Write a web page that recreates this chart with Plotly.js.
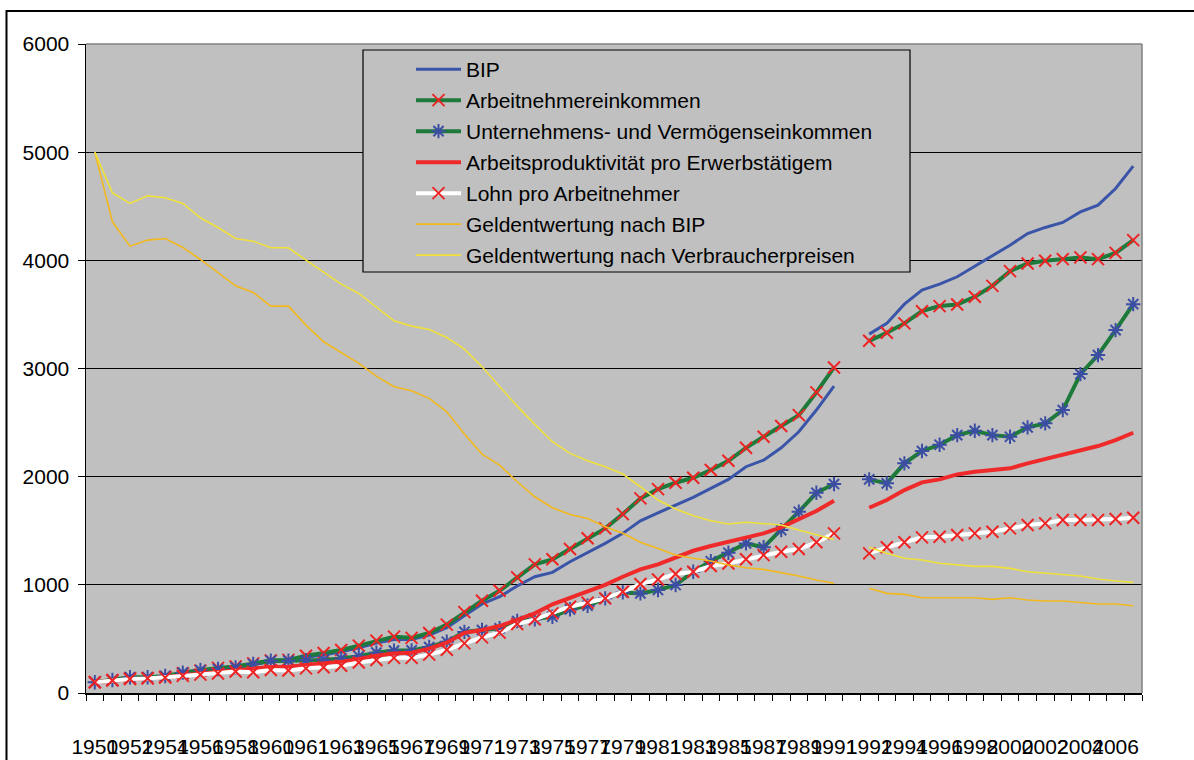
<!DOCTYPE html>
<html>
<head>
<meta charset="utf-8">
<script src="https://cdn.plot.ly/plotly-3.0.1.min.js"></script>
<style>html,body{margin:0;padding:0;background:#fff;}#chart{width:1194px;height:760px;}</style>
</head>
<body>
<div id="chart"></div>
<script>
// Category labels (60 slots; slot 43 is the gap between West Germany and unified Germany)
const categories = [
  "1950","1951","1952","1953","1954","1955","1956","1957","1958","1959","1960","1960",
  "1961","1962","1963","1964","1965","1966","1967","1968","1969","1970","1971","1972",
  "1973","1974","1975","1976","1977","1978","1979","1980","1981","1982","1983","1984",
  "1985","1986","1987","1988","1989","1990","1991","1991","1992","1993","1994","1995",
  "1996","1997","1998","1999","2000","2001","2002","2003","2004","2005","2006","2007"
];

const bip = [100,118,133,138,150,175,200,222,235,262,290,298,330,352,380,418,462,495,495,535,605,715,
  823,890,989,1075,1115,1214,1297,1383,1476,1592,1666,1738,1808,1892,1975,2092,2153,2267,2415,2616,2837,
  null,
  3318,3417,3595,3725,3780,3848,3946,4039,4140,4248,4304,4350,4448,4510,4664,4871];

const arbeitnehmereinkommen = [100,120,137,138,150,182,207,232,245,274,300,306,345,370,398,438,484,521,510,555,632,748,
  853,945,1069,1189,1236,1331,1430,1522,1654,1799,1885,1944,1990,2061,2147,2267,2369,2468,2569,2779,3010,
  null,
  3256,3330,3417,3530,3577,3592,3663,3764,3900,3971,3996,4011,4027,4011,4069,4187];

const unternehmenseinkommen = [100,120,145,145,157,188,213,222,237,268,299,299,302,305,320,340,373,392,394,425,474,565,
  582,598,665,681,705,773,807,875,930,921,952,998,1121,1218,1297,1383,1347,1506,1676,1851,1932,
  null,
  1975,1938,2123,2237,2295,2384,2424,2384,2369,2456,2493,2616,2948,3124,3355,3595];

const arbeitsproduktivitaet = [100,115,128,135,145,165,180,195,208,222,240,242,258,270,288,315,345,365,372,410,465,556,
  582,619,675,736,820,880,945,1000,1075,1143,1189,1248,1315,1359,1398,1439,1476,1531,1605,1682,1777,
  null,
  1713,1784,1876,1947,1975,2021,2045,2061,2077,2123,2163,2206,2239,2283,2338,2406];

const lohnProArbeitnehmer = [100,115,130,135,142,158,170,180,198,192,212,208,228,238,252,282,305,325,325,355,400,459,
  514,558,638,681,736,798,835,875,936,1007,1050,1100,1121,1174,1198,1236,1275,1306,1331,1393,1476,
  null,
  1291,1347,1393,1439,1445,1460,1476,1491,1522,1553,1568,1599,1599,1599,1608,1620];

const geldentwertungBIP = [5000,4356,4131,4187,4202,4119,4008,3888,3764,3703,3577,3577,3401,3247,3149,3047,2930,2831,2794,2724,2600,2394,
  2209,2107,1953,1814,1713,1651,1614,1537,1476,1393,1337,1275,1245,1220,1183,1158,1143,1115,1081,1044,1014,
  null,
  968,921,912,881,881,881,881,866,881,860,850,850,838,823,823,807];

const geldentwertungVPI = [5000,4624,4526,4596,4578,4526,4393,4304,4202,4177,4116,4116,4002,3888,3780,3694,3570,3441,3392,3361,3287,3179,
  3016,2831,2652,2483,2323,2215,2147,2092,2024,1907,1784,1701,1639,1592,1562,1578,1568,1553,1506,1460,1420,
  null,
  1347,1291,1245,1229,1199,1183,1171,1171,1152,1121,1106,1097,1081,1054,1035,1023];

const seriesNames = [
  "BIP","Arbeitnehmereinkommen","Unternehmens- und Vermögenseinkommen",
  "Arbeitsproduktivität pro Erwerbstätigem","Lohn pro Arbeitnehmer",
  "Geldentwertung nach BIP","Geldentwertung nach Verbraucherpreisen"
];
const yTicks = [0,1000,2000,3000,4000,5000,6000];

const xIdx = categories.map((c, i) => i);
const tickIdx = xIdx.filter(i => i % 2 === 0);
const tickLabels = tickIdx.map(i => categories[i]);

const RED = '#ee2424';
function tr(name, y, line, marker, g) {
  const t = {type:'scatter', x:xIdx, y:y, name:name, line:line, legendgroup:'g'+g,
    mode: marker ? 'lines+markers' : 'lines', connectgaps:false, hoverinfo:'skip'};
  if (marker) t.marker = marker;
  return t;
}
const xMarker = {symbol:'x-thin-open', size:12, color:RED, line:{width:2, color:RED}};
const starMarker = {symbol:'asterisk-open', size:12, color:'#3c4ea4', line:{width:2, color:'#3c4ea4'}};

const data = [
  tr(seriesNames[0], bip, {color:'#3a55a8', width:3}, null, 0),
  tr(seriesNames[1], arbeitnehmereinkommen, {color:'#1d7a3a', width:4}, xMarker, 1),
  tr(seriesNames[2], unternehmenseinkommen, {color:'#1d7a3a', width:4}, starMarker, 2),
  tr(seriesNames[3], arbeitsproduktivitaet, {color:'#ef2a2a', width:4}, null, 3),
  tr(seriesNames[4], lohnProArbeitnehmer, {color:'#ffffff', width:4}, xMarker, 4),
  tr(seriesNames[5], geldentwertungBIP, {color:'#f2b81c', width:1.6}, null, 5),
  tr(seriesNames[6], geldentwertungVPI, {color:'#f0e03a', width:1.6}, null, 6)
];

const W = 1194, H = 760, L = 86, R = 52, T = 44, B = 67;
const pw = W - L - R, ph = H - T - B;
const px = v => (v - L) / pw;
const py = v => (H - B - v) / ph;

const layout = {
  width: W, height: H,
  margin: {l:L, r:R, t:T, b:B, pad:0},
  paper_bgcolor: '#ffffff',
  plot_bgcolor: '#c0c0c0',
  font: {family:'"Liberation Sans", Arial, sans-serif', size:21, color:'#000'},
  showlegend: true,
  legend: {
    x: px(411), y: py(49), xanchor:'left', yanchor:'top',
    bgcolor:'rgba(0,0,0,0)', borderwidth:0,
    font:{size:21, color:'#000'}, traceorder:'grouped', tracegroupgap:0.7,
    itemwidth:45
  },
  xaxis: {
    range:[-0.5, 59.5], tickmode:'array', tickvals:tickIdx, ticktext:tickLabels,
    tickangle:0, ticks:'', showgrid:false, zeroline:false,
    showline:true, linecolor:'#000', linewidth:1.5,
    ticklabelstandoff: 34,
    minor: {tickmode:'linear', tick0:-0.5, dtick:1, ticks:'outside', ticklen:6, tickcolor:'#000', tickwidth:1, showgrid:false},
    fixedrange:true
  },
  yaxis: {
    range:[0, 6000], tickmode:'array', tickvals:yTicks, ticktext:yTicks.map(String),
    ticks:'outside', ticklen:7, tickcolor:'#000', tickwidth:1,
    showgrid:true, gridcolor:'#000', gridwidth:1, zeroline:false,
    showline:true, linecolor:'#000', linewidth:1.5,
    ticklabelstandoff: 4, fixedrange:true
  },
  shapes: [
    // outer chart frame
    {type:'rect', xref:'paper', yref:'paper', x0:px(6.5), x1:px(1210), y0:py(790), y1:py(11),
      line:{color:'#000', width:2}, fillcolor:'rgba(0,0,0,0)', layer:'above'},
    // plot area border (top and right)
    {type:'line', xref:'paper', yref:'paper', x0:0, x1:1, y0:1, y1:1, line:{color:'#808080', width:1.5}, layer:'above'},
    {type:'line', xref:'paper', yref:'paper', x0:1, x1:1, y0:0, y1:1, line:{color:'#808080', width:1.5}, layer:'above'},
    // legend box
    {type:'rect', xref:'paper', yref:'paper', x0:px(363), x1:px(910), y0:py(272), y1:py(50),
      line:{color:'#000', width:1.2}, fillcolor:'#c0c0c0', layer:'above'}
  ]
};

Plotly.newPlot('chart', data, layout, {displayModeBar:false, staticPlot:true});
</script>
</body>
</html>
